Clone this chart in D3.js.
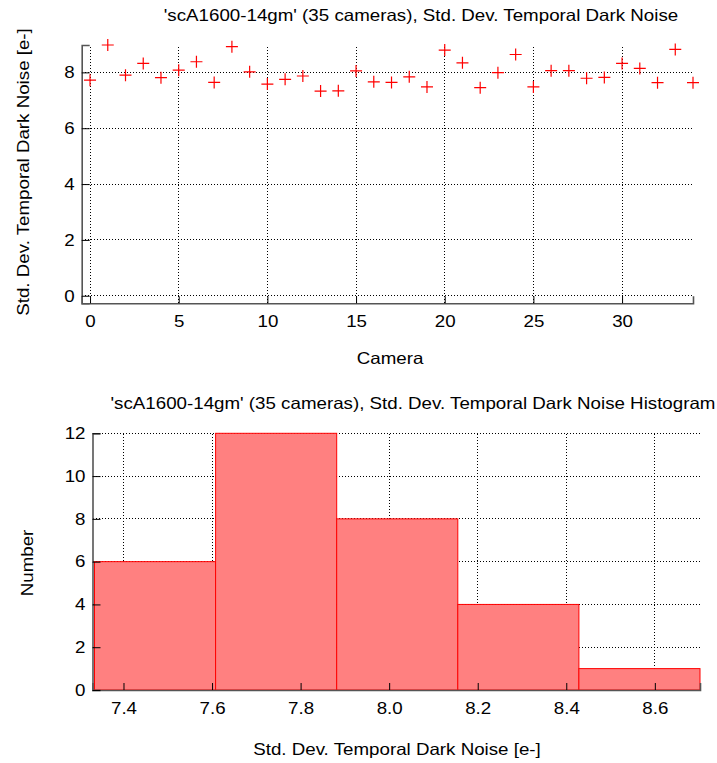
<!DOCTYPE html>
<html><head><meta charset="utf-8">
<script src="https://cdn.jsdelivr.net/npm/d3@7"></script>
<style>
body{margin:0;background:#fff;}
text{font-family:"Liberation Sans",Arial,sans-serif;fill:#000;}
</style></head><body>
<script>
// ---- data ----
const cameras = d3.range(35);
const noise = [7.72,8.98,7.90,8.32,7.81,8.08,8.38,7.64,8.92,8.02,7.58,7.75,7.87,7.33,7.34,8.05,7.66,7.64,7.84,7.48,
               8.80,8.34,7.45,7.99,8.64,7.48,8.06,8.06,7.79,7.82,8.32,8.14,7.63,8.82,7.63];
const binEdges = [7.3345,7.608,7.8815,8.155,8.4285,8.702];
const binCounts = [6,12,8,4,1];
const topXTicks = [0,5,10,15,20,25,30];
const topYTicks = [0,2,4,6,8];
const histXTicks = [7.4,7.6,7.8,8.0,8.2,8.4,8.6];
const histYTicks = [0,2,4,6,8,10,12];
const titleTop = "'scA1600-14gm' (35 cameras), Std. Dev. Temporal Dark Noise";
const titleHist = "'scA1600-14gm' (35 cameras), Std. Dev. Temporal Dark Noise Histogram";

const W=717,H=763;
const svg=d3.select("body").append("svg").attr("width",W).attr("height",H);
const FS=16.5, SX=1.135;

function grid(g, x, y, xt, yt){
  const [x0,x1]=x.range(), [y0,y1]=y.range();
  g.selectAll(".gx").data(xt).join("line")
    .attr("x1",d=>x(d)).attr("x2",d=>x(d)).attr("y1",y0).attr("y2",y1)
    .attr("stroke","#000").attr("stroke-width",1).attr("stroke-dasharray","1,2").attr("shape-rendering","crispEdges");
  g.selectAll(".gy").data(yt).join("line")
    .attr("x1",x0).attr("x2",x1).attr("y1",d=>y(d)).attr("y2",d=>y(d))
    .attr("stroke","#000").attr("stroke-width",1).attr("stroke-dasharray","1,2").attr("shape-rendering","crispEdges");
}
function axes(g,x,y,xt,yt,xfmt,yfmt){
  const xa=d3.axisBottom(x).tickValues(xt).tickSize(-7).tickPadding(12).tickFormat(xfmt);
  const ya=d3.axisLeft(y).tickValues(yt).tickSize(-8).tickPadding(7).tickFormat(yfmt);
  const gx=g.append("g").attr("transform",`translate(0,${y.range()[0]})`).call(xa);
  const gy=g.append("g").attr("transform",`translate(${x.range()[0]},0)`).call(ya);
  [gx,gy].forEach(a=>{
    a.select(".domain").attr("stroke","#555").attr("stroke-width",1.6);
    a.selectAll(".tick line").attr("stroke","#000");
    a.selectAll("text").attr("font-size",FS).attr("font-family","Liberation Sans, Arial, sans-serif");
  });
  gx.selectAll("text").attr("dy","0.71em");
}

// ---- top scatter ----
const x1=d3.scaleLinear().domain([-0.47,34]).range([81.7,693]);
const y1=d3.scaleLinear().domain([-0.27,8.98]).range([303.3,45]);
const g1=svg.append("g");
grid(g1,x1,y1,topXTicks,topYTicks);
axes(g1,x1,y1,topXTicks,topYTicks,d3.format("d"),d3.format("d"));
g1.selectAll(".pt").data(cameras).join("path")
  .attr("d",i=>{const cx=x1(i),cy=y1(noise[i]);return `M${cx-6},${cy}H${cx+6}M${cx},${cy-6}V${cy+6}`;})
  .attr("stroke","#ff0000").attr("stroke-width",1.2).attr("fill","none");
svg.append("text").attr("x",421).attr("y",21).attr("text-anchor","middle").attr("font-size",FS).text(titleTop);
svg.append("text").attr("x",390).attr("y",364).attr("text-anchor","middle").attr("font-size",FS).text("Camera");
svg.append("text").attr("transform","translate(29,172) rotate(-90)").attr("text-anchor","middle").attr("font-size",FS)
  .text("Std. Dev. Temporal Dark Noise [e-]");

// ---- histogram ----
const x2=d3.scaleLinear().domain([7.3300,8.702]).range([92.5,700]);
const y2=d3.scaleLinear().domain([0,12]).range([690,433.3]);
const g2=svg.append("g");
grid(g2,x2,y2,histXTicks,histYTicks);
g2.selectAll(".bar").data(binCounts).join("rect")
  .attr("x",(d,i)=>x2(binEdges[i])).attr("width",(d,i)=>x2(binEdges[i+1])-x2(binEdges[i]))
  .attr("y",d=>y2(d)).attr("height",d=>y2(0)-y2(d))
  .attr("fill","#ff8080").attr("stroke","#ff0000").attr("stroke-width",1);
axes(g2,x2,y2,histXTicks,histYTicks,d3.format(".1f"),d3.format("d"));
svg.append("text").attr("x",413).attr("y",409).attr("text-anchor","middle").attr("font-size",FS).text(titleHist);
svg.append("text").attr("x",397).attr("y",755).attr("text-anchor","middle").attr("font-size",FS).text("Std. Dev. Temporal Dark Noise [e-]");
svg.append("text").attr("transform","translate(33,563) rotate(-90)").attr("text-anchor","middle").attr("font-size",FS).text("Number");

// widen text slightly to match the reference glyph widths
svg.selectAll("text").each(function(){
  const L=this.getComputedTextLength();
  d3.select(this).attr("textLength",L*SX).attr("lengthAdjust","spacingAndGlyphs");
});
</script>
</body></html>
